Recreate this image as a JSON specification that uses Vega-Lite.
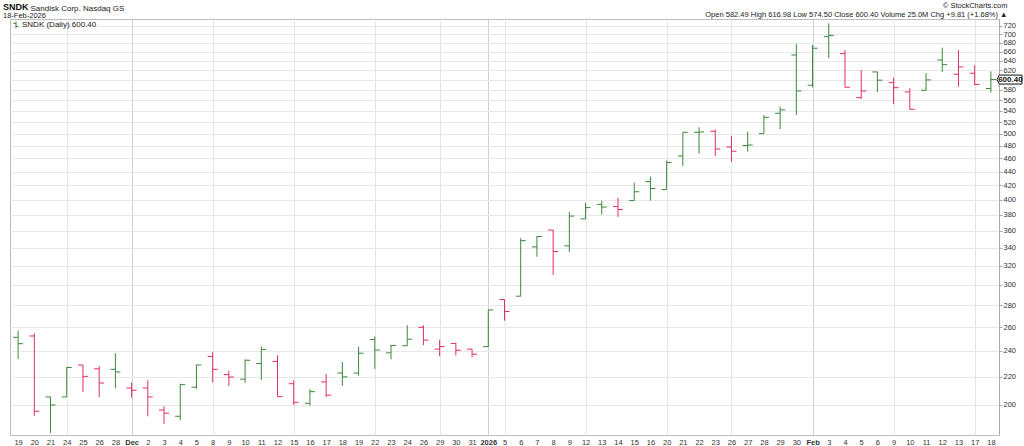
{
  "$schema": "https://vega.github.io/schema/vega-lite/v6.json",
  "width": 989,
  "height": 416,
  "autosize": {"type": "none"},
  "padding": {"left": 10, "top": 19, "right": 25, "bottom": 11},
  "background": "white",
  "config": {"view": {"stroke": "#bdbdbd", "strokeWidth": 1}, "font": "Liberation Sans"},
  "title": {
    "text": "SNDK",
    "subtitle": "18-Feb-2026",
    "anchor": "start",
    "frame": "group",
    "dx": -7,
    "dy": 19,
    "offset": 1,
    "fontSize": 9,
    "fontWeight": "bold",
    "color": "#111111",
    "font": "Liberation Sans",
    "subtitleFont": "Liberation Sans",
    "subtitleFontSize": 7.5,
    "subtitleColor": "#222222",
    "subtitlePadding": 0
  },
  "data": {
    "values": [
      {"date": "2025-11-19", "open": 251.4, "high": 257.1, "low": 233.4, "close": 246.0},
      {"date": "2025-11-20", "open": 252.5, "high": 254.9, "low": 192.8, "close": 195.8},
      {"date": "2025-11-21", "open": 205.5, "high": 205.5, "low": 182.0, "close": 200.0},
      {"date": "2025-11-24", "open": 205.5, "high": 227.3, "low": 205.5, "close": 227.0},
      {"date": "2025-11-25", "open": 228.9, "high": 228.9, "low": 208.9, "close": 220.3},
      {"date": "2025-11-26", "open": 226.0, "high": 228.1, "low": 205.3, "close": 215.4},
      {"date": "2025-11-28", "open": 225.6, "high": 238.2, "low": 211.6, "close": 223.6},
      {"date": "2025-12-01", "open": 211.8, "high": 215.6, "low": 205.0, "close": 210.2},
      {"date": "2025-12-02", "open": 211.8, "high": 217.3, "low": 192.5, "close": 205.5},
      {"date": "2025-12-03", "open": 196.6, "high": 199.1, "low": 187.6, "close": 194.5},
      {"date": "2025-12-04", "open": 192.5, "high": 214.9, "low": 189.9, "close": 214.2},
      {"date": "2025-12-05", "open": 212.4, "high": 229.1, "low": 211.2, "close": 228.9},
      {"date": "2025-12-08", "open": 235.6, "high": 239.1, "low": 215.8, "close": 225.6},
      {"date": "2025-12-09", "open": 221.6, "high": 224.6, "low": 213.2, "close": 219.8},
      {"date": "2025-12-10", "open": 218.2, "high": 233.3, "low": 215.4, "close": 232.6},
      {"date": "2025-12-11", "open": 230.1, "high": 243.6, "low": 217.5, "close": 241.3},
      {"date": "2025-12-12", "open": 231.7, "high": 236.6, "low": 205.7, "close": 205.7},
      {"date": "2025-12-15", "open": 214.9, "high": 217.3, "low": 200.0, "close": 201.8},
      {"date": "2025-12-16", "open": 201.1, "high": 210.9, "low": 199.5, "close": 209.2},
      {"date": "2025-12-17", "open": 216.2, "high": 222.1, "low": 205.3, "close": 206.7},
      {"date": "2025-12-18", "open": 222.8, "high": 231.3, "low": 213.5, "close": 219.9},
      {"date": "2025-12-19", "open": 222.8, "high": 243.4, "low": 220.8, "close": 238.2},
      {"date": "2025-12-22", "open": 249.5, "high": 252.1, "low": 226.0, "close": 240.8},
      {"date": "2025-12-23", "open": 238.5, "high": 245.0, "low": 233.3, "close": 244.5},
      {"date": "2025-12-24", "open": 244.3, "high": 261.9, "low": 244.3, "close": 249.8},
      {"date": "2025-12-26", "open": 260.0, "high": 261.9, "low": 244.8, "close": 249.0},
      {"date": "2025-12-29", "open": 241.5, "high": 249.4, "low": 235.8, "close": 243.6},
      {"date": "2025-12-30", "open": 246.1, "high": 247.0, "low": 236.4, "close": 240.6},
      {"date": "2025-12-31", "open": 241.5, "high": 241.7, "low": 235.0, "close": 237.4},
      {"date": "2026-01-02", "open": 243.6, "high": 275.7, "low": 243.6, "close": 275.7},
      {"date": "2026-01-05", "open": 285.6, "high": 285.6, "low": 265.9, "close": 274.2},
      {"date": "2026-01-06", "open": 288.8, "high": 351.4, "low": 288.8, "close": 348.4},
      {"date": "2026-01-07", "open": 341.1, "high": 353.8, "low": 330.0, "close": 353.3},
      {"date": "2026-01-08", "open": 361.2, "high": 361.2, "low": 310.3, "close": 335.9},
      {"date": "2026-01-09", "open": 342.3, "high": 384.0, "low": 335.4, "close": 378.6},
      {"date": "2026-01-12", "open": 375.0, "high": 395.9, "low": 375.0, "close": 389.6},
      {"date": "2026-01-13", "open": 393.8, "high": 398.7, "low": 380.5, "close": 390.3},
      {"date": "2026-01-14", "open": 391.0, "high": 402.7, "low": 377.5, "close": 387.0},
      {"date": "2026-01-15", "open": 398.9, "high": 424.0, "low": 398.9, "close": 411.0},
      {"date": "2026-01-16", "open": 425.4, "high": 432.5, "low": 398.9, "close": 415.5},
      {"date": "2026-01-20", "open": 414.0, "high": 456.5, "low": 414.0, "close": 453.6},
      {"date": "2026-01-21", "open": 463.8, "high": 502.5, "low": 448.4, "close": 502.5},
      {"date": "2026-01-22", "open": 502.5, "high": 511.1, "low": 467.4, "close": 503.0},
      {"date": "2026-01-23", "open": 504.2, "high": 506.9, "low": 463.8, "close": 474.9},
      {"date": "2026-01-26", "open": 478.1, "high": 496.2, "low": 454.5, "close": 471.3},
      {"date": "2026-01-27", "open": 480.5, "high": 503.5, "low": 470.6, "close": 481.3},
      {"date": "2026-01-28", "open": 500.1, "high": 532.8, "low": 500.1, "close": 528.4},
      {"date": "2026-01-29", "open": 535.8, "high": 548.0, "low": 507.6, "close": 541.9},
      {"date": "2026-01-30", "open": 652.4, "high": 677.1, "low": 532.8, "close": 577.7},
      {"date": "2026-02-02", "open": 589.0, "high": 674.8, "low": 585.0, "close": 667.4},
      {"date": "2026-02-03", "open": 694.0, "high": 726.1, "low": 645.2, "close": 697.0},
      {"date": "2026-02-04", "open": 655.3, "high": 663.5, "low": 585.0, "close": 585.0},
      {"date": "2026-02-05", "open": 564.8, "high": 620.3, "low": 562.4, "close": 577.7},
      {"date": "2026-02-06", "open": 616.1, "high": 616.1, "low": 575.8, "close": 599.1},
      {"date": "2026-02-09", "open": 594.2, "high": 604.3, "low": 552.4, "close": 584.2},
      {"date": "2026-02-10", "open": 575.8, "high": 582.9, "low": 542.4, "close": 543.1},
      {"date": "2026-02-11", "open": 579.1, "high": 613.4, "low": 578.3, "close": 599.7},
      {"date": "2026-02-12", "open": 641.5, "high": 668.7, "low": 616.1, "close": 631.4},
      {"date": "2026-02-13", "open": 611.3, "high": 663.5, "low": 586.2, "close": 626.5},
      {"date": "2026-02-17", "open": 613.4, "high": 630.2, "low": 589.0, "close": 590.59},
      {"date": "2026-02-18", "open": 582.49, "high": 616.98, "low": 574.5, "close": 600.4}
    ]
  },
  "transform": [
    {"window": [{"op": "lag", "field": "close", "as": "prev"}], "sort": [{"field": "date", "order": "ascending"}]},
    {"calculate": "datum.prev == null || datum.close >= datum.prev ? 'up' : 'down'", "as": "dir"}
  ],
  "encoding": {
    "x": {
      "field": "date",
      "type": "ordinal",
      "scale": {"type": "point", "padding": 0.5},
      "axis": {
        "title": "Sandisk Corp.  Nasdaq GS",
        "titleX": 20,
        "titleY": -425,
        "titleAlign": "left",
        "titleBaseline": "alphabetic",
        "titleFontSize": 8,
        "titleFontWeight": "normal",
        "titleColor": "#222222",
        "titleFont": "Liberation Sans",
        "labelAngle": 0,
        "labelFont": "Liberation Sans",
        "labelFontSize": 7.5,
        "labelColor": "#333333",
        "labelPadding": 3,
        "labelOverlap": false,
        "labelExpr": "datum.value == '2025-12-01' ? 'Dec' : datum.value == '2026-01-02' ? '2026' : datum.value == '2026-02-02' ? 'Feb' : '' + parseInt(substring(datum.value, 8, 10))",
        "labelFontWeight": {"condition": {"test": "indexof(['2025-12-01','2026-01-02','2026-02-02'], datum.value) >= 0", "value": "bold"}, "value": "normal"},
        "ticks": false,
        "domain": false,
        "grid": true,
        "gridColor": {"condition": {"test": "indexof(['2025-12-01','2026-01-02','2026-02-02'], datum.value) >= 0", "value": "#cfcfcf"}, "value": "#e6e6e6"},
        "gridOpacity": {"condition": {"test": "indexof(['2025-11-24','2025-12-01','2025-12-08','2025-12-15','2025-12-22','2025-12-29','2026-01-02','2026-01-05','2026-01-12','2026-01-20','2026-01-26','2026-02-02','2026-02-09','2026-02-17'], datum.value) < 0", "value": 0}, "value": 1}
      }
    }
  },
  "layer": [
    {
      "mark": {"type": "rule", "strokeWidth": 1},
      "encoding": {
        "y": {
          "field": "low",
          "type": "quantitative",
          "scale": {"type": "log", "domain": [180.7, 736.7], "nice": false, "zero": false},
          "axis": {
            "orient": "right",
            "values": [200, 220, 240, 260, 280, 300, 320, 340, 360, 380, 400, 420, 440, 460, 480, 500, 520, 540, 560, 580, 600, 620, 640, 660, 680, 700, 720],
            "format": "d",
            "labelExpr": "datum.value == 600 ? '' : datum.label",
            "labelFont": "Liberation Sans",
            "labelFontSize": 7.5,
            "labelColor": "#333333",
            "labelPadding": 1,
            "tickSize": 3,
            "tickColor": "#aaaaaa",
            "domain": true,
            "domainColor": "#aaaaaa",
            "grid": true,
            "gridColor": "#e8e8e8",
            "title": ["© StockCharts.com", "Open 582.49  High 616.98  Low 574.50  Close 600.40  Volume 25.0M  Chg +9.81 (+1.68%) ▲"],
            "titleAngle": 0,
            "titleAlign": "right",
            "titleBaseline": "top",
            "titleX": 8,
            "titleY": -18,
            "titleFont": "Liberation Sans",
            "titleFontSize": 7.5,
            "titleFontWeight": "normal",
            "titleColor": "#222222",
            "titleLineHeight": 9
          }
        },
        "y2": {"field": "high"},
        "color": {
          "field": "dir",
          "type": "nominal",
          "scale": {"domain": ["up", "down"], "range": ["#3a883a", "#e0305f"]},
          "legend": {"orient": "none", "legendX": 0, "legendY": 0, "values": ["up"], "title": null, "labelExpr": "'SNDK (Daily) 600.40'", "symbolType": "M0,-1V1M-0.7,-0.45H0M0,0.35H0.7", "symbolSize": 49, "symbolStrokeWidth": 1, "labelFont": "Liberation Sans", "labelFontSize": 8, "labelColor": "#222222", "labelOffset": 2, "padding": 2, "symbolOffset": 0}
        }
      }
    },
    {
      "mark": {"type": "rule", "strokeWidth": 1, "xOffset": -5},
      "encoding": {
        "x2": {"field": "date"},
        "y": {"field": "open", "type": "quantitative"},
        "color": {
          "field": "dir",
          "type": "nominal",
          "scale": {"domain": ["up", "down"], "range": ["#3a883a", "#e0305f"]},
          "legend": {"orient": "none", "legendX": 0, "legendY": 0, "values": ["up"], "title": null, "labelExpr": "'SNDK (Daily) 600.40'", "symbolType": "M0,-1V1M-0.7,-0.45H0M0,0.35H0.7", "symbolSize": 49, "symbolStrokeWidth": 1, "labelFont": "Liberation Sans", "labelFontSize": 8, "labelColor": "#222222", "labelOffset": 2, "padding": 2, "symbolOffset": 0}
        }
      }
    },
    {
      "mark": {"type": "rule", "strokeWidth": 1, "x2Offset": 5},
      "encoding": {
        "x2": {"field": "date"},
        "y": {"field": "close", "type": "quantitative"},
        "color": {
          "field": "dir",
          "type": "nominal",
          "scale": {"domain": ["up", "down"], "range": ["#3a883a", "#e0305f"]},
          "legend": {"orient": "none", "legendX": 0, "legendY": 0, "values": ["up"], "title": null, "labelExpr": "'SNDK (Daily) 600.40'", "symbolType": "M0,-1V1M-0.7,-0.45H0M0,0.35H0.7", "symbolSize": 49, "symbolStrokeWidth": 1, "labelFont": "Liberation Sans", "labelFontSize": 8, "labelColor": "#222222", "labelOffset": 2, "padding": 2, "symbolOffset": 0}
        }
      }
    },
    {
      "transform": [{"filter": "datum.date == '2026-02-18'"}],
      "mark": {"type": "point", "shape": "M0.19,0L0.26,-0.14H0.97V0.14H0.26Z", "size": 4096, "filled": true, "fill": "white", "stroke": "#111111", "strokeWidth": 1, "opacity": 1},
      "encoding": {"y": {"field": "close", "type": "quantitative"}}
    },
    {
      "transform": [{"filter": "datum.date == '2026-02-18'"}],
      "mark": {"type": "text", "dx": 19.5, "font": "Liberation Sans", "fontSize": 8, "fontWeight": "bold", "color": "#111111", "align": "center", "baseline": "middle"},
      "encoding": {
        "y": {"field": "close", "type": "quantitative"},
        "text": {"field": "close", "type": "quantitative", "format": ".2f"}
      }
    }
  ]
}
